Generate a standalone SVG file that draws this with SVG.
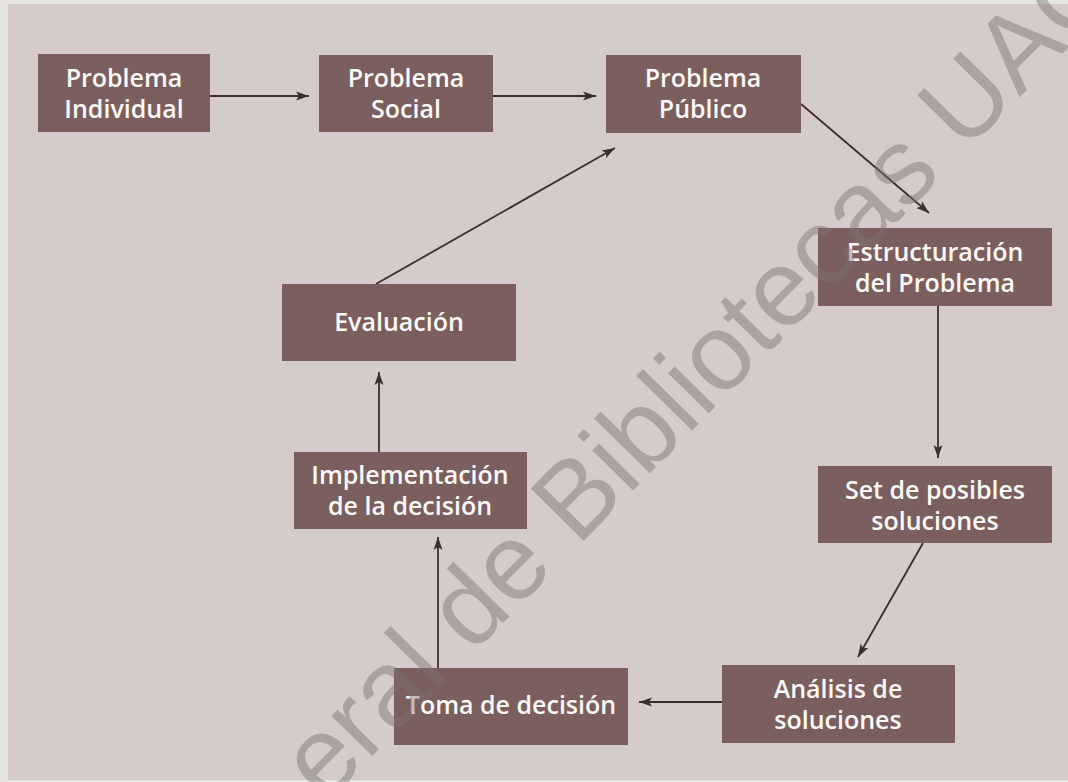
<svg xmlns="http://www.w3.org/2000/svg" width="1068" height="782" viewBox="0 0 1068 782">
<style>
.box{fill:#7a5f5e}
.lbl{font-family:"Open Sans","Liberation Sans",sans-serif;font-weight:600;font-size:25px;fill:#fbf8f6;text-anchor:middle}
.edge{stroke:#3d2e2e;stroke-width:1.8;fill:none;marker-end:url(#ah)}
.wm{font-family:"Liberation Sans","DejaVu Sans",sans-serif;font-size:108px;fill:#7d7272;fill-opacity:0.45}
</style>
<defs>
<marker id="ah" markerUnits="userSpaceOnUse" markerWidth="14" markerHeight="10" refX="13" refY="5" orient="auto">
<path d="M0,0.5 L13,5 L0,9.5 L3,5 Z" fill="#3d2e2e"/>
</marker>
</defs>
<rect x="0" y="0" width="1068" height="782" fill="#e6e3e3"/>
<rect x="8" y="4" width="1060" height="776" fill="#d6cbcb"/>

<g id="connectors">
<line class="edge" x1="210" y1="96" x2="309" y2="96"/>
<line class="edge" x1="493" y1="96" x2="596" y2="96"/>
<line class="edge" x1="801" y1="104" x2="929" y2="213"/>
<line class="edge" x1="376" y1="284" x2="615" y2="148"/>
<line class="edge" x1="938" y1="304" x2="938" y2="458"/>
<line class="edge" x1="923" y1="543" x2="858" y2="657"/>
<line class="edge" x1="722" y1="702" x2="639" y2="702"/>
<line class="edge" x1="438" y1="668" x2="438" y2="537"/>
<line class="edge" x1="379" y1="452" x2="379" y2="372"/>
</g>

<g id="n-individual">
<rect class="box" x="38" y="54" width="172" height="78"/>
<text class="lbl" x="124" y="87">Problema</text>
<text class="lbl" x="124" y="118">Individual</text>
</g>
<g id="n-social">
<rect class="box" x="319" y="55" width="174" height="77"/>
<text class="lbl" x="406" y="87">Problema</text>
<text class="lbl" x="406" y="118">Social</text>
</g>
<g id="n-publico">
<rect class="box" x="606" y="55" width="195" height="78"/>
<text class="lbl" x="703" y="87">Problema</text>
<text class="lbl" x="703" y="118">Público</text>
</g>
<g id="n-estructuracion">
<rect class="box" x="818" y="228" width="234" height="78"/>
<text class="lbl" x="935" y="261">Estructuración</text>
<text class="lbl" x="935" y="292">del Problema</text>
</g>
<g id="n-evaluacion">
<rect class="box" x="282" y="284" width="234" height="77"/>
<text class="lbl" x="399" y="331">Evaluación</text>
</g>
<g id="n-set">
<rect class="box" x="818" y="466" width="234" height="77"/>
<text class="lbl" x="935" y="499">Set de posibles</text>
<text class="lbl" x="935" y="530">soluciones</text>
</g>
<g id="n-implementacion">
<rect class="box" x="294" y="452" width="233" height="77"/>
<text class="lbl" x="410" y="484">Implementación</text>
<text class="lbl" x="410" y="515">de la decisión</text>
</g>
<g id="n-analisis">
<rect class="box" x="722" y="665" width="233" height="78"/>
<text class="lbl" x="838" y="698">Análisis de</text>
<text class="lbl" x="838" y="729">soluciones</text>
</g>
<g id="n-toma">
<rect class="box" x="394" y="668" width="234" height="77"/>
<text class="lbl" x="511" y="714">Toma de decisión</text>
</g>

<text class="wm" transform="translate(325,804) rotate(-45.5)">eral de Bibliotecas UAC</text>
</svg>
